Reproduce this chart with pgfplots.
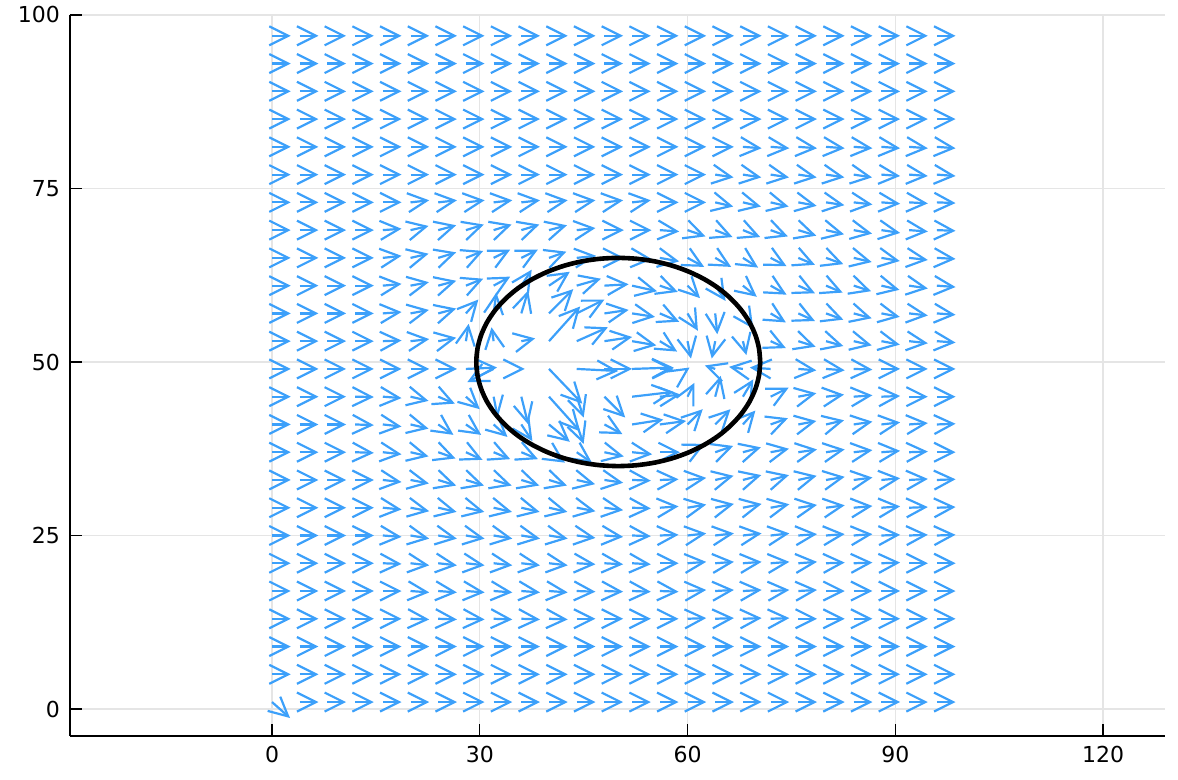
\documentclass[border=0pt]{standalone}
\usepackage{pgfplots}
\pgfplotsset{compat=1.18}
\usepackage{pgfplotstable}
\usepackage{fontspec}
\setmainfont{DejaVu Sans}
\usetikzlibrary{arrows.meta,calc}
\definecolor{qblue}{RGB}{60,160,250}

\pgfplotstableread{
x y u v
0 1 2.6 -2.3
4 1 2.7 0
8 1 2.7 0
12 1 2.7 0
16 1 2.7 0
20 1 2.7 0
24 1 2.7 0
28 1 2.7 0
32 1 2.7 0
36 1 2.7 0
40 1 2.7 0
44 1 2.7 0
48 1 2.7 0
52 1 2.7 0
56 1 2.7 0
60 1 2.7 0
64 1 2.7 0
68 1 2.7 0
72 1 2.7 0
76 1 2.7 0
80 1 2.7 0
84 1 2.7 0
88 1 2.7 0
92 1 2.7 0
96 1 2.7 0
0 5 2.7 0
4 5 2.7 0
8 5 2.7 0
12 5 2.7 0
16 5 2.7 0
20 5 2.7 0
24 5 2.7 0
28 5 2.7 0
32 5 2.7 0
36 5 2.7 0
40 5 2.7 0
44 5 2.7 0
48 5 2.7 0
52 5 2.7 0
56 5 2.7 0
60 5 2.7 0
64 5 2.7 0
68 5 2.7 0
72 5 2.7 0
76 5 2.7 0
80 5 2.7 0
84 5 2.7 0
88 5 2.7 0
92 5 2.7 0
96 5 2.7 0
0 9 2.7 0
4 9 2.7 0
8 9 2.7 0
12 9 2.7 0
16 9 2.7 0
20 9 2.7 0
24 9 2.7 0
28 9 2.7 0
32 9 2.7 0
36 9 2.7 0
40 9 2.7 0
44 9 2.7 0
48 9 2.7 0
52 9 2.7 0
56 9 2.7 0
60 9 2.7 0
64 9 2.7 0
68 9 2.7 0
72 9 2.7 0
76 9 2.7 0
80 9 2.7 0
84 9 2.7 0
88 9 2.7 0
92 9 2.7 0
96 9 2.7 0
0 13 2.7 0
4 13 2.7 0
8 13 2.7 0
12 13 2.7 0
16 13 2.7 0
20 13 2.7 -0.1
24 13 2.7 -0.1
28 13 2.7 -0.1
32 13 2.7 -0.1
36 13 2.7 -0.1
40 13 2.7 -0.1
44 13 2.7 0
48 13 2.7 0
52 13 2.7 0
56 13 2.7 0
60 13 2.7 0.1
64 13 2.7 0.1
68 13 2.7 0.1
72 13 2.7 0.1
76 13 2.7 0
80 13 2.7 0
84 13 2.7 0
88 13 2.7 0
92 13 2.7 0
96 13 2.7 0
0 17 2.7 0
4 17 2.7 0
8 17 2.7 0
12 17 2.7 0
16 17 2.7 0
20 17 2.7 -0.2
24 17 2.7 -0.2
28 17 2.7 -0.2
32 17 2.7 -0.2
36 17 2.7 -0.2
40 17 2.7 -0.2
44 17 2.7 -0.1
48 17 2.7 -0.1
52 17 2.7 -0.1
56 17 2.7 -0.1
60 17 2.7 0.15
64 17 2.7 0.15
68 17 2.7 0.15
72 17 2.7 0.15
76 17 2.7 0.15
80 17 2.7 0
84 17 2.7 0
88 17 2.7 0
92 17 2.7 0
96 17 2.7 0
0 21 2.7 0
4 21 2.7 0
8 21 2.7 0
12 21 2.7 0
16 21 2.7 -0.1
20 21 2.7 -0.3
24 21 2.7 -0.3
28 21 2.7 -0.3
32 21 2.7 -0.3
36 21 2.7 -0.3
40 21 2.7 -0.3
44 21 2.7 -0.15
48 21 2.7 -0.15
52 21 2.7 -0.15
56 21 2.7 0
60 21 2.7 0.2
64 21 2.7 0.2
68 21 2.7 0.2
72 21 2.7 0.2
76 21 2.7 0.2
80 21 2.7 0.1
84 21 2.7 0.1
88 21 2.7 0.1
92 21 2.7 0
96 21 2.7 0
0 25 2.7 0
4 25 2.7 0
8 25 2.7 0
12 25 2.7 0
16 25 2.7 -0.2
20 25 2.7 -0.45
24 25 2.7 -0.45
28 25 2.7 -0.45
32 25 2.7 -0.45
36 25 2.7 -0.45
40 25 2.7 -0.45
44 25 2.7 -0.35
48 25 2.7 -0.2
52 25 2.7 -0.1
56 25 2.7 0.1
60 25 2.7 0.3
64 25 2.7 0.3
68 25 2.7 0.3
72 25 2.7 0.3
76 25 2.7 0.2
80 25 2.7 0.2
84 25 2.7 0.2
88 25 2.7 0.1
92 25 2.7 0.1
96 25 2.7 0.1
0 29 2.7 0
4 29 2.7 0
8 29 2.7 0
12 29 2.7 0
16 29 2.7 -0.25
20 29 2.7 -0.5
24 29 2.65 -0.6
28 29 2.65 -0.6
32 29 2.65 -0.6
36 29 2.65 -0.6
40 29 2.65 -0.6
44 29 2.7 -0.5
48 29 2.7 -0.35
52 29 2.7 -0.1
56 29 2.7 0.2
60 29 2.7 0.45
64 29 2.7 0.55
68 29 2.7 0.55
72 29 2.7 0.5
76 29 2.7 0.4
80 29 2.7 0.35
84 29 2.7 0.25
88 29 2.7 0.2
92 29 2.7 0.1
96 29 2.7 0.1
0 33 2.7 0
4 33 2.7 0
8 33 2.7 0
12 33 2.7 0
16 33 2.7 -0.3
20 33 2.65 -0.5
24 33 2.6 -0.8
28 33 2.6 -0.8
32 33 2.6 -0.8
36 33 2.6 -0.8
40 33 2.6 -0.8
44 33 2.65 -0.6
48 33 2.7 -0.4
52 33 2.7 -0.1
56 33 2.7 0.1
60 33 2.7 0.3
64 33 2.65 0.6
68 33 2.65 0.7
72 33 2.65 0.7
76 33 2.65 0.6
80 33 2.7 0.45
84 33 2.7 0.35
88 33 2.7 0.25
92 33 2.7 0.15
96 33 2.7 0.1
0 37 2.7 0
4 37 2.7 0
8 37 2.7 0
12 37 2.7 -0.1
16 37 2.7 -0.3
20 37 2.6 -0.6
24 37 2.5 -0.9
28 37 2.4 -1.1
32 37 2.4 -1.0
36 37 2.4 -1.0
40 37 2.3 -1.5
44 37 2.2 -1.5
48 37 2.8 -0.6
52 37 2.9 -0.3
56 37 2.9 0
60 37 2.5 1.2
64 37 2.6 0.9
68 37 2.6 0.7
72 37 2.65 0.5
76 37 2.7 0.4
80 37 2.7 0.4
84 37 2.7 0.3
88 37 2.7 0.2
92 37 2.7 0.1
96 37 2.7 0
0 41 2.7 0
4 41 2.7 0
8 41 2.7 0
12 41 2.7 -0.1
16 41 2.7 -0.3
20 41 2.6 -0.6
24 41 2.2 -1.5
28 41 2.2 -1.5
32 41 2.0 -1.8
36 41 1.6 -2.4
40 41 3.0 -2.5
44 41 1.0 -2.8
48 41 2.6 -1.4
52 41 4.5 0.7
56 41 3.8 0.5
60 41 2.2 2.2
64 41 2.2 2.2
68 41 1.8 2.0
72 41 2.5 0.9
76 41 2.6 0.5
80 41 2.6 0.6
84 41 2.7 0.4
88 41 2.7 0.3
92 41 2.7 0.2
96 41 2.7 0.1
0 45 2.7 0
4 45 2.7 0
8 45 2.7 0
12 45 2.7 -0.05
16 45 2.7 -0.2
20 45 2.6 -0.6
24 45 2.4 -1.0
28 45 2.0 -1.8
32 45 0.6 -3.0
36 45 1.0 -4.0
40 45 4.5 -5.0
44 45 1.0 -3.0
48 45 3.0 -3.0
52 45 6.0 0.7
56 45 3.0 0.3
60 45 1.0 2.0
64 45 0.8 3.0
68 45 1.5 2.5
72 45 2.6 1.3
76 45 2.6 0.5
80 45 2.6 0.3
84 45 2.7 0.2
88 45 2.7 0.1
92 45 2.7 0
96 45 2.7 0
0 49 2.7 0
4 49 2.7 0
8 49 2.7 0
12 49 2.7 0
16 49 2.7 0
20 49 2.7 0
24 49 2.7 0
28 49 4.5 0.2
32 49 -3.8 -1.9
36 49 0.5 0
40 49 4.8 -5.0
44 49 6.0 -0.3
48 49 4.0 0
52 49 6.0 0.2
56 49 2.0 0
60 49 0.3 0.2
64 49 -1.5 0.5
68 49 -2.0 0.3
72 49 -3.0 0.2
76 49 2.6 -0.2
80 49 2.7 -0.2
84 49 2.7 -0.1
88 49 2.7 0
92 49 2.7 0
96 49 2.7 0
0 53 2.7 0
4 53 2.7 0
8 53 2.7 0
12 53 2.7 0
16 53 2.7 0.1
20 53 2.7 0.3
24 53 2.6 0.5
28 53 0.4 2.5
32 53 -0.3 2.0
36 53 2.0 0.4
40 53 4.5 5.0
44 53 4.5 2.0
48 53 4.0 0.6
52 53 3.5 -0.6
56 53 2.5 -1.5
60 53 0.5 -2.5
64 53 -0.5 -2.5
68 53 0.5 -2.0
72 53 2.2 -1.0
76 53 2.5 -0.8
80 53 2.5 -0.7
84 53 2.6 -0.6
88 53 2.65 -0.5
92 53 2.7 -0.3
96 53 2.7 -0.2
0 57 2.7 0
4 57 2.7 0
8 57 2.7 0
12 57 2.7 0
16 57 2.7 0.2
20 57 2.65 0.5
24 57 2.6 0.7
28 57 1.8 2.0
32 57 0.4 3.0
36 57 1.0 3.3
40 57 3.5 3.5
44 57 4.0 2.0
48 57 3.5 0.5
52 57 3.3 -0.5
56 57 2.8 -1.2
60 57 1.5 -2.5
64 57 0.3 -3.0
68 57 1.5 -2.2
72 57 2.2 -1.3
76 57 2.4 -1.1
80 57 2.5 -0.9
84 57 2.6 -0.7
88 57 2.65 -0.5
92 57 2.7 -0.3
96 57 2.7 -0.2
0 61 2.7 0
4 61 2.7 0
8 61 2.7 0
12 61 2.7 0
16 61 2.7 0.25
20 61 2.65 0.5
24 61 2.6 0.7
28 61 2.5 1.0
32 61 2.4 1.3
36 61 1.5 2.3
40 61 3.0 2.0
44 61 3.5 1.0
48 61 3.5 0.2
52 61 3.6 -0.8
56 61 2.6 -0.9
60 61 1.8 -1.8
64 61 1.5 -2.2
68 61 2.0 -1.6
72 61 2.3 -1.3
76 61 2.4 -1.1
80 61 2.4 -1.0
84 61 2.5 -0.8
88 61 2.6 -0.6
92 61 2.7 -0.4
96 61 2.7 -0.2
0 65 2.7 0
4 65 2.7 0
8 65 2.7 0
12 65 2.7 0
16 65 2.7 0.3
20 65 2.6 0.6
24 65 2.6 0.8
28 65 2.5 1.0
32 65 2.4 1.2
36 65 2.4 1.2
40 65 2.5 0.9
44 65 2.8 0.3
48 65 2.9 0
52 65 2.9 -0.2
56 65 2.8 -0.5
60 65 2.4 -1.3
64 65 2.3 -1.3
68 65 2.2 -1.4
72 65 2.3 -1.2
76 65 2.4 -1.0
80 65 2.5 -0.9
84 65 2.6 -0.6
88 65 2.65 -0.45
92 65 2.7 -0.3
96 65 2.7 -0.15
0 69 2.7 0
4 69 2.7 0
8 69 2.7 0
12 69 2.7 0
16 69 2.7 0.2
20 69 2.6 0.6
24 69 2.6 0.7
28 69 2.6 0.8
32 69 2.6 0.8
36 69 2.6 0.8
40 69 2.6 0.7
44 69 2.7 0.3
48 69 2.8 0
52 69 2.8 0
56 69 2.8 -0.2
60 69 2.6 -0.9
64 69 2.5 -1.0
68 69 2.5 -1.0
72 69 2.5 -0.9
76 69 2.6 -0.8
80 69 2.6 -0.6
84 69 2.65 -0.5
88 69 2.7 -0.4
92 69 2.7 -0.2
96 69 2.7 -0.1
0 73 2.7 0
4 73 2.7 0
8 73 2.7 0
12 73 2.7 0
16 73 2.7 0
20 73 2.7 0.3
24 73 2.7 0.3
28 73 2.7 0.3
32 73 2.7 0.3
36 73 2.7 0.3
40 73 2.7 0.3
44 73 2.7 0.3
48 73 2.7 0.3
52 73 2.7 0.3
56 73 2.7 0
60 73 2.7 0
64 73 2.6 -0.6
68 73 2.6 -0.6
72 73 2.6 -0.6
76 73 2.65 -0.5
80 73 2.65 -0.4
84 73 2.7 -0.3
88 73 2.7 -0.2
92 73 2.7 -0.15
96 73 2.7 -0.1
0 77 2.7 0
4 77 2.7 0
8 77 2.7 0
12 77 2.7 0
16 77 2.7 0
20 77 2.7 0
24 77 2.7 0
28 77 2.7 0
32 77 2.7 0
36 77 2.7 0
40 77 2.7 0
44 77 2.7 0
48 77 2.7 0
52 77 2.7 0
56 77 2.7 0
60 77 2.7 0
64 77 2.65 -0.4
68 77 2.65 -0.4
72 77 2.65 -0.4
76 77 2.65 -0.4
80 77 2.65 -0.4
84 77 2.65 -0.4
88 77 2.7 -0.2
92 77 2.7 -0.2
96 77 2.7 -0.2
0 81 2.7 0
4 81 2.7 0
8 81 2.7 0
12 81 2.7 0
16 81 2.7 0
20 81 2.7 0
24 81 2.7 0
28 81 2.7 0
32 81 2.7 0
36 81 2.7 0
40 81 2.7 0
44 81 2.7 0
48 81 2.7 0
52 81 2.7 0
56 81 2.7 0
60 81 2.7 0
64 81 2.7 0
68 81 2.7 -0.2
72 81 2.7 -0.2
76 81 2.7 -0.2
80 81 2.7 -0.2
84 81 2.7 -0.2
88 81 2.7 -0.2
92 81 2.7 -0.2
96 81 2.7 -0.2
0 85 2.7 0
4 85 2.7 0
8 85 2.7 0
12 85 2.7 0
16 85 2.7 0
20 85 2.7 0
24 85 2.7 0
28 85 2.7 0
32 85 2.7 0
36 85 2.7 0
40 85 2.7 0
44 85 2.7 0
48 85 2.7 0
52 85 2.7 0
56 85 2.7 0
60 85 2.7 0
64 85 2.7 0
68 85 2.7 0
72 85 2.7 0
76 85 2.7 0
80 85 2.7 0
84 85 2.7 0
88 85 2.7 0
92 85 2.7 0
96 85 2.7 0
0 89 2.7 0
4 89 2.7 0
8 89 2.7 0
12 89 2.7 0
16 89 2.7 0
20 89 2.7 0
24 89 2.7 0
28 89 2.7 0
32 89 2.7 0
36 89 2.7 0
40 89 2.7 0
44 89 2.7 0
48 89 2.7 0
52 89 2.7 0
56 89 2.7 0
60 89 2.7 0
64 89 2.7 0
68 89 2.7 0
72 89 2.7 0
76 89 2.7 0
80 89 2.7 0
84 89 2.7 0
88 89 2.7 0
92 89 2.7 0
96 89 2.7 0
0 93 2.7 0
4 93 2.7 0
8 93 2.7 0
12 93 2.7 0
16 93 2.7 0
20 93 2.7 0
24 93 2.7 0
28 93 2.7 0
32 93 2.7 0
36 93 2.7 0
40 93 2.7 0
44 93 2.7 0
48 93 2.7 0
52 93 2.7 0
56 93 2.7 0
60 93 2.7 0
64 93 2.7 0
68 93 2.7 0
72 93 2.7 0
76 93 2.7 0
80 93 2.7 0
84 93 2.7 0
88 93 2.7 0
92 93 2.7 0
96 93 2.7 0
0 97 2.7 0
4 97 2.7 0
8 97 2.7 0
12 97 2.7 0
16 97 2.7 0
20 97 2.7 0
24 97 2.7 0
28 97 2.7 0
32 97 2.7 0
36 97 2.7 0
40 97 2.7 0
44 97 2.7 0
48 97 2.7 0
52 97 2.7 0
56 97 2.7 0
60 97 2.7 0
64 97 2.7 0
68 97 2.7 0
72 97 2.7 0
76 97 2.7 0
80 97 2.7 0
84 97 2.7 0
88 97 2.7 0
92 97 2.7 0
96 97 2.7 0
}\quivdata

\begin{document}
\begin{tikzpicture}
\begin{axis}[
  scale only axis,
  width=547.5pt, height=360.5pt,
  xmin=-29.17, xmax=128.95, ymin=-3.89, ymax=100,
  axis x line*=bottom, axis y line*=left,
  axis line style={black, line width=0.75pt, -},
  xtick={0,30,60,90,120}, ytick={0,25,50,75,100},
  tick align=inside, major tick length=6pt,
  tick style={black, line width=0.6pt},
  grid=major, major grid style={black!10, line width=0.6pt},
  /pgf/number format/assume math mode=true,
  tick label style={font=\fontsize{11}{13}\selectfont},
  yticklabel style={xshift=-1.5pt},
  xticklabel style={yshift=-1.5pt},
  clip=false,
]
\addplot[qblue, line width=1.1pt, -{Straight Barb[length=9.5pt,width=9.5pt]},
  quiver={u=\thisrow{u}, v=\thisrow{v}}] table[x=x,y=y] {\quivdata};
\addplot[black, line width=2.3pt, smooth, mark=none] coordinates {
(70.50,50.00) (70.32,51.96) (69.80,53.88) (68.94,55.74) (67.75,57.50) (66.26,59.13) (64.50,60.61) (62.48,61.90) (60.25,62.99) (57.85,63.86) (55.31,64.49) (52.68,64.87) (50.00,65.00)
(47.32,64.87) (44.69,64.49) (42.15,63.86) (39.75,62.99) (37.52,61.90) (35.50,60.61) (33.74,59.13) (32.25,57.50) (31.06,55.74) (30.20,53.88) (29.68,51.96) (29.50,50.00)
(29.68,48.04) (30.20,46.12) (31.06,44.26) (32.25,42.50) (33.74,40.87) (35.50,39.39) (37.52,38.10) (39.75,37.01) (42.15,36.14) (44.69,35.51) (47.32,35.13) (50.00,35.00)
(52.68,35.13) (55.31,35.51) (57.85,36.14) (60.25,37.01) (62.48,38.10) (64.50,39.39) (66.26,40.87) (67.75,42.50) (68.94,44.26) (69.80,46.12) (70.32,48.04) (70.50,50.00)
};
\end{axis}
\path[use as bounding box] ($(current axis.south west)+(-35pt,-22pt)$) rectangle ($(current axis.north east)+(6.5pt,7.5pt)$);
\end{tikzpicture}
\end{document}
